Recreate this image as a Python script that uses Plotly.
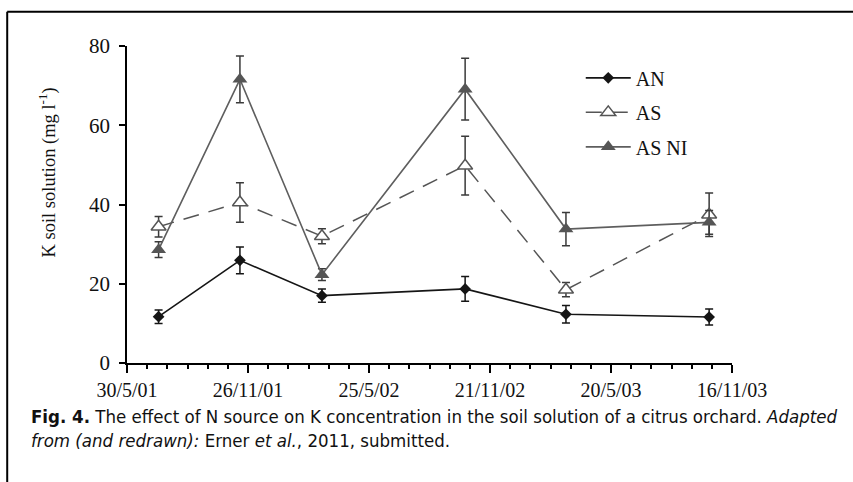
import plotly.graph_objects as go

# Sampling dates
dates = ["2001-07-16", "2001-11-14", "2002-03-16", "2002-10-15", "2003-03-14", "2003-10-13"]

# K in soil solution (mg l-1) and standard errors per N source
an_vals = [11.7, 25.9, 17.0, 18.7, 12.3, 11.6]
an_err = [1.7, 3.4, 1.7, 3.1, 2.2, 2.0]
as_vals = [34.4, 40.5, 32.0, 49.8, 18.5, 37.4]
as_err = [2.6, 5.0, 1.9, 7.4, 1.8, 5.5]
asni_vals = [28.6, 71.6, 22.3, 69.1, 33.8, 35.5]
asni_err = [2.0, 5.9, 1.5, 7.8, 4.2, 3.0]

tick_dates = ["2001-05-30", "2001-11-26", "2002-05-25", "2002-11-21", "2003-05-20", "2003-11-16"]
tick_labels = ["30/5/01", "26/11/01", "25/5/02", "21/11/02", "20/5/03", "16/11/03"]

serif = "Liberation Serif, Times New Roman, serif"
narrow = "DejaVu Sans Condensed, Arial Narrow, sans-serif"

fig = go.Figure()

fig.add_trace(go.Scatter(
    x=dates, y=an_vals, name="AN", mode="lines+markers",
    line=dict(color="#151515", width=1.6),
    marker=dict(symbol="diamond", size=9, color="#151515"),
    error_y=dict(type="data", array=an_err, color="#151515", thickness=1.5, width=4),
    legendgroup="an",
))
fig.add_trace(go.Scatter(
    x=dates, y=as_vals, name="AS", mode="lines+markers",
    line=dict(color="#555555", width=1.5, dash="16px,10px"),
    marker=dict(symbol="triangle-up", size=13, color="white",
                line=dict(color="#555555", width=1.5)),
    error_y=dict(type="data", array=as_err, color="#3a3a3a", thickness=1.5, width=4),
    legendgroup="as",
))
fig.add_trace(go.Scatter(
    x=dates, y=asni_vals, name="AS NI", mode="lines+markers",
    line=dict(color="#5e5e5e", width=1.6),
    marker=dict(symbol="triangle-up", size=13, color="#555555"),
    error_y=dict(type="data", array=asni_err, color="#3a3a3a", thickness=1.5, width=4),
    legendgroup="asni",
))

# Outer frame (left and top edges)
fig.add_shape(type="line", xref="paper", yref="paper", x0=-0.198, x1=-0.198, y0=1.108, y1=-0.6,
              line=dict(color="black", width=2))
fig.add_shape(type="line", xref="paper", yref="paper", x0=-0.198, x1=1.3, y0=1.108, y1=1.108,
              line=dict(color="black", width=2))

# Y axis title
fig.add_annotation(
    xref="paper", yref="paper", x=-0.131, y=0.60, xanchor="center", yanchor="middle",
    textangle=-90, showarrow=False,
    text="K soil solution (mg l<sup>-1</sup>)",
    font=dict(family=serif, size=18.5, color="#111111"),
)

# Caption
fig.add_annotation(
    xref="paper", yref="paper", x=-0.162, y=-0.128, xanchor="left", yanchor="top",
    align="left", showarrow=False,
    text=("<b>Fig. 4.</b> The effect of N source on K concentration in the soil solution of a citrus orchard. "
          "<i>Adapted</i><br><i>from (and redrawn):</i> Erner <i>et al.</i>, 2011, submitted."),
    font=dict(family=narrow, size=18.5, color="#111111"),
)

fig.update_layout(
    width=853, height=482,
    margin=dict(l=127, r=121, t=46, b=119),
    paper_bgcolor="white", plot_bgcolor="white",
    showlegend=True,
    legend=dict(x=0.75, y=0.961, xanchor="left", yanchor="top",
                font=dict(family=serif, size=20, color="#111111"),
                bgcolor="rgba(0,0,0,0)", tracegroupgap=5.5, itemwidth=45),
    font=dict(family=serif, color="#111111"),
    xaxis=dict(
        type="date", range=["2001-05-30", "2003-11-16"],
        tickmode="array", tickvals=tick_dates, ticktext=tick_labels,
        ticks="outside", ticklen=8, tickwidth=1.5, tickcolor="black",
        showline=True, linecolor="black", linewidth=1.5, showgrid=False, zeroline=False,
        tickfont=dict(family=serif, size=20, color="#111111"),
        minor=dict(ticks="outside", ticklen=4, tickwidth=1.5, tickcolor="black",
                   dtick=30 * 86400000, tick0="2001-05-30", showgrid=False),
    ),
    yaxis=dict(
        range=[0, 80], dtick=20, ticks="outside", ticklen=6, tickwidth=1.5, tickcolor="black",
        showline=True, linecolor="black", linewidth=1.5, showgrid=False, zeroline=False,
        tickfont=dict(family=serif, size=21, color="#111111"), ticklabelstandoff=5,
    ),
)

fig.write_html("out.html")
